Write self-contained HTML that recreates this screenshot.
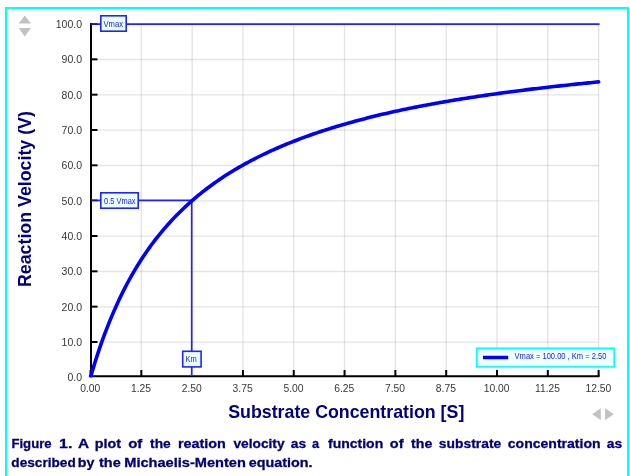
<!DOCTYPE html>
<html><head><meta charset="utf-8">
<style>
html,body{margin:0;padding:0;background:#fff;}
body{width:630px;height:476px;position:relative;overflow:hidden;font-family:"Liberation Sans",sans-serif;}
#frame{position:absolute;left:5px;top:7px;width:620px;height:480px;border:2px solid #00ffff;}
svg{position:absolute;left:0;top:0;}
#chart{will-change:transform;}
</style></head><body>
<div id="frame"></div>
<svg id="chart" width="630" height="476" viewBox="0 0 630 476">
<g stroke="#000" stroke-opacity="0.105" stroke-width="1.35" fill="none">
<line x1="141.31" y1="24.00" x2="141.31" y2="376" />
<line x1="192.12" y1="24.00" x2="192.12" y2="376" />
<line x1="242.94" y1="24.00" x2="242.94" y2="376" />
<line x1="293.75" y1="24.00" x2="293.75" y2="376" />
<line x1="344.56" y1="24.00" x2="344.56" y2="376" />
<line x1="395.38" y1="24.00" x2="395.38" y2="376" />
<line x1="446.19" y1="24.00" x2="446.19" y2="376" />
<line x1="497.00" y1="24.00" x2="497.00" y2="376" />
<line x1="547.81" y1="24.00" x2="547.81" y2="376" />
<line x1="598.62" y1="24.00" x2="598.62" y2="376" />
<line x1="92" y1="342.17" x2="598.62" y2="342.17" />
<line x1="92" y1="306.84" x2="598.62" y2="306.84" />
<line x1="92" y1="271.51" x2="598.62" y2="271.51" />
<line x1="92" y1="236.18" x2="598.62" y2="236.18" />
<line x1="92" y1="200.85" x2="598.62" y2="200.85" />
<line x1="92" y1="165.52" x2="598.62" y2="165.52" />
<line x1="92" y1="130.19" x2="598.62" y2="130.19" />
<line x1="92" y1="94.86" x2="598.62" y2="94.86" />
<line x1="92" y1="59.53" x2="598.62" y2="59.53" />
</g>
<g fill="#c2c2c2">
<polygon points="24.8,15.4 30.9,23.5 18.7,23.5"/>
<polygon points="18.7,28 30.9,28 24.8,36.5"/>
<polygon points="592.2,414.3 600.8,408.3 600.8,420"/>
<polygon points="605.1,408.3 613.9,414.3 605.1,420"/>
</g>

<g stroke="#000" stroke-width="2" fill="none">
<line x1="91" y1="23" x2="91" y2="377.2"/>
<line x1="90" y1="376.2" x2="599.62" y2="376.2"/>
<line x1="90.50" y1="370" x2="90.50" y2="376" />
<line x1="141.31" y1="370" x2="141.31" y2="376" />
<line x1="242.94" y1="370" x2="242.94" y2="376" />
<line x1="293.75" y1="370" x2="293.75" y2="376" />
<line x1="344.56" y1="370" x2="344.56" y2="376" />
<line x1="395.38" y1="370" x2="395.38" y2="376" />
<line x1="446.19" y1="370" x2="446.19" y2="376" />
<line x1="497.00" y1="370" x2="497.00" y2="376" />
<line x1="547.81" y1="370" x2="547.81" y2="376" />
<line x1="598.62" y1="370" x2="598.62" y2="376" />
<line x1="91" y1="341.97" x2="97.5" y2="341.97" />
<line x1="91" y1="306.64" x2="97.5" y2="306.64" />
<line x1="91" y1="271.31" x2="97.5" y2="271.31" />
<line x1="91" y1="235.98" x2="97.5" y2="235.98" />
<line x1="91" y1="165.32" x2="97.5" y2="165.32" />
<line x1="91" y1="129.99" x2="97.5" y2="129.99" />
<line x1="91" y1="94.66" x2="97.5" y2="94.66" />
<line x1="91" y1="59.33" x2="97.5" y2="59.33" />
</g>
<g stroke="#2222ff" stroke-width="1.7" fill="none">
<line x1="90.8" y1="24.05" x2="599.62" y2="24.05"/>
<line x1="91" y1="200.4" x2="191.7" y2="200.4"/>
<line x1="191.7" y1="200.4" x2="191.7" y2="376"/>
</g>
<g stroke="#1010c8" stroke-width="1.7" fill="none">
<line x1="91" y1="24.05" x2="97.5" y2="24.05"/>
<line x1="91" y1="200.4" x2="97.5" y2="200.4"/>
</g>
<clipPath id="pc"><rect x="85" y="0" width="540" height="377.3"/></clipPath>
<polyline clip-path="url(#pc)" points="90.50,377.30 92.53,370.37 94.56,363.71 96.60,357.30 98.63,351.13 100.66,345.18 102.69,339.45 104.73,333.91 106.76,328.57 108.79,323.41 110.83,318.42 112.86,313.59 114.89,308.92 116.92,304.40 118.95,300.02 120.99,295.77 123.02,291.65 125.05,287.66 127.09,283.78 129.12,280.01 131.15,276.36 133.18,272.80 135.22,269.35 137.25,265.99 139.28,262.72 141.31,259.53 143.34,256.43 145.38,253.42 147.41,250.47 149.44,247.61 151.47,244.81 153.51,242.09 155.54,239.43 157.57,236.83 159.60,234.30 161.64,231.82 163.67,229.41 165.70,227.05 167.74,224.74 169.77,222.48 171.80,220.28 173.83,218.12 175.87,216.01 177.90,213.95 179.93,211.93 181.96,209.95 184.00,208.01 186.03,206.11 188.06,204.26 190.09,202.43 192.12,200.65 194.16,198.89 196.19,197.17 198.22,195.47 200.25,193.82 202.29,192.19 204.32,190.59 206.35,189.02 208.38,187.48 210.42,185.97 212.45,184.49 214.48,183.03 216.51,181.60 218.55,180.20 220.58,178.82 222.61,177.46 224.64,176.12 226.68,174.81 228.71,173.52 230.74,172.26 232.78,171.01 234.81,169.78 236.84,168.58 238.87,167.39 240.91,166.22 242.94,165.07 244.97,163.94 247.00,162.82 249.03,161.73 251.07,160.65 253.10,159.58 255.13,158.54 257.16,157.51 259.20,156.49 261.23,155.49 263.26,154.50 265.29,153.53 267.33,152.57 269.36,151.63 271.39,150.70 273.42,149.78 275.46,148.87 277.49,147.98 279.52,147.10 281.56,146.23 283.59,145.38 285.62,144.53 287.65,143.70 289.69,142.88 291.72,142.07 293.75,141.27 295.78,140.48 297.81,139.70 299.85,138.93 301.88,138.17 303.91,137.42 305.94,136.68 307.98,135.95 310.01,135.22 312.04,134.51 314.07,133.81 316.11,133.11 318.14,132.42 320.17,131.74 322.21,131.07 324.24,130.41 326.27,129.76 328.30,129.11 330.34,128.47 332.37,127.84 334.40,127.21 336.43,126.59 338.46,125.98 340.50,125.38 342.53,124.78 344.56,124.19 346.59,123.61 348.63,123.03 350.66,122.46 352.69,121.90 354.72,121.34 356.76,120.79 358.79,120.24 360.82,119.70 362.86,119.17 364.89,118.64 366.92,118.11 368.95,117.60 370.99,117.08 373.02,116.58 375.05,116.07 377.08,115.58 379.11,115.09 381.15,114.60 383.18,114.12 385.21,113.64 387.25,113.17 389.28,112.70 391.31,112.24 393.34,111.78 395.38,111.33 397.41,110.89 399.44,110.45 401.47,110.02 403.50,109.59 405.54,109.17 407.57,108.75 409.60,108.34 411.63,107.93 413.67,107.52 415.70,107.12 417.73,106.72 419.76,106.33 421.80,105.93 423.83,105.55 425.86,105.16 427.90,104.78 429.93,104.41 431.96,104.03 433.99,103.66 436.02,103.30 438.06,102.93 440.09,102.57 442.12,102.22 444.15,101.86 446.19,101.51 448.22,101.16 450.25,100.82 452.29,100.48 454.32,100.14 456.35,99.80 458.38,99.47 460.41,99.14 462.45,98.82 464.48,98.49 466.51,98.17 468.55,97.85 470.58,97.54 472.61,97.22 474.64,96.91 476.68,96.60 478.71,96.30 480.74,96.00 482.77,95.70 484.80,95.40 486.84,95.10 488.87,94.81 490.90,94.52 492.94,94.23 494.97,93.94 497.00,93.66 499.03,93.38 501.06,93.10 503.10,92.82 505.13,92.55 507.16,92.27 509.19,92.00 511.23,91.74 513.26,91.47 515.29,91.20 517.33,90.94 519.36,90.68 521.39,90.42 523.42,90.17 525.45,89.91 527.49,89.66 529.52,89.41 531.55,89.16 533.59,88.91 535.62,88.67 537.65,88.43 539.68,88.18 541.71,87.94 543.75,87.71 545.78,87.47 547.81,87.24 549.85,87.00 551.88,86.77 553.91,86.54 555.94,86.32 557.97,86.09 560.01,85.86 562.04,85.64 564.07,85.42 566.11,85.20 568.14,84.98 570.17,84.77 572.20,84.55 574.24,84.34 576.27,84.12 578.30,83.91 580.33,83.70 582.37,83.50 584.40,83.29 586.43,83.09 588.46,82.88 590.50,82.68 592.53,82.48 594.56,82.28 596.59,82.08 598.62,81.88" fill="none" stroke="#0000ff" stroke-width="3.6" stroke-linejoin="round" stroke-linecap="round"/>
<g font-family="Liberation Sans" font-size="10.5" fill="#383838">
<text x="82" y="381.40" text-anchor="end">0.0</text>
<text x="82" y="346.07" text-anchor="end">10.0</text>
<text x="82" y="310.74" text-anchor="end">20.0</text>
<text x="82" y="275.41" text-anchor="end">30.0</text>
<text x="82" y="240.08" text-anchor="end">40.0</text>
<text x="82" y="204.75" text-anchor="end">50.0</text>
<text x="82" y="169.42" text-anchor="end">60.0</text>
<text x="82" y="134.09" text-anchor="end">70.0</text>
<text x="82" y="98.76" text-anchor="end">80.0</text>
<text x="82" y="63.43" text-anchor="end">90.0</text>
<text x="82" y="28.10" text-anchor="end">100.0</text>
<text x="90.20" y="392" font-size="10.3" text-anchor="middle">0.00</text>
<text x="141.01" y="392" font-size="10.3" text-anchor="middle">1.25</text>
<text x="191.82" y="392" font-size="10.3" text-anchor="middle">2.50</text>
<text x="242.64" y="392" font-size="10.3" text-anchor="middle">3.75</text>
<text x="293.45" y="392" font-size="10.3" text-anchor="middle">5.00</text>
<text x="344.26" y="392" font-size="10.3" text-anchor="middle">6.25</text>
<text x="395.07" y="392" font-size="10.3" text-anchor="middle">7.50</text>
<text x="445.89" y="392" font-size="10.3" text-anchor="middle">8.75</text>
<text x="496.70" y="392" font-size="10.3" text-anchor="middle">10.00</text>
<text x="547.51" y="392" font-size="10.3" text-anchor="middle">11.25</text>
<text x="598.33" y="392" font-size="10.3" text-anchor="middle">12.50</text>
</g>
<g stroke="#2222ff" stroke-width="1.6" fill="#eaffff">
<rect x="100.8" y="15.8" width="25.4" height="15.4"/>
<rect x="100.8" y="192.8" width="37.4" height="15.4"/>
<rect x="182.7" y="351.3" width="18.4" height="15.6"/>
</g>
<g font-family="Liberation Sans" font-size="8.4" fill="#1818ff">
<text x="103.4" y="26.7" textLength="19.6" lengthAdjust="spacingAndGlyphs">Vmax</text>
<text x="104.1" y="203.8" textLength="31.5" lengthAdjust="spacingAndGlyphs">0.5 Vmax</text>
<text x="185.6" y="361.9" textLength="11.2" lengthAdjust="spacingAndGlyphs">Km</text>
</g>
<rect x="476.8" y="348.3" width="137.4" height="18.6" fill="#f0ffff" stroke="#00ffff" stroke-width="1.6"/>
<line x1="483" y1="357.5" x2="508.2" y2="357.5" stroke="#0000ff" stroke-width="3.5"/>
<text x="514.6" y="359.2" font-family="Liberation Sans" font-size="8.2" fill="#1818ff" textLength="91.8" lengthAdjust="spacingAndGlyphs">Vmax = 100.00 , Km = 2.50</text>
<text transform="translate(31.1,287) rotate(-90)" font-family="Liberation Sans" font-weight="bold" font-size="17.8" fill="#000080">Reaction Velocity (V)</text>
<text x="228.2" y="417.8" font-family="Liberation Sans" font-weight="bold" font-size="17.8" fill="#000080">Substrate Concentration [S]</text>
</svg>
<svg id="capsvg" width="630" height="476" viewBox="0 0 630 476">
<g font-family="Liberation Sans" font-weight="bold" font-size="13.5" fill="#000074" stroke="#000074" stroke-width="0.3">
<text x="11.42" y="447.5" textLength="40.23" lengthAdjust="spacingAndGlyphs">Figure</text>
<text x="59.11" y="447.5" textLength="13.39" lengthAdjust="spacingAndGlyphs">1.</text>
<text x="78.06" y="447.5" textLength="11.09" lengthAdjust="spacingAndGlyphs">A</text>
<text x="94.74" y="447.5" textLength="26.3" lengthAdjust="spacingAndGlyphs">plot</text>
<text x="128.19" y="447.5" textLength="14.13" lengthAdjust="spacingAndGlyphs">of</text>
<text x="150.1" y="447.5" textLength="20.66" lengthAdjust="spacingAndGlyphs">the</text>
<text x="177.93" y="447.5" textLength="47.95" lengthAdjust="spacingAndGlyphs">reation</text>
<text x="233.4" y="447.5" textLength="51.19" lengthAdjust="spacingAndGlyphs">velocity</text>
<text x="290.88" y="447.5" textLength="15.38" lengthAdjust="spacingAndGlyphs">as</text>
<text x="311.96" y="447.5" textLength="7.09" lengthAdjust="spacingAndGlyphs">a</text>
<text x="328.0" y="447.5" textLength="55.2" lengthAdjust="spacingAndGlyphs">function</text>
<text x="389.82" y="447.5" textLength="13.71" lengthAdjust="spacingAndGlyphs">of</text>
<text x="411.0" y="447.5" textLength="21.26" lengthAdjust="spacingAndGlyphs">the</text>
<text x="438.87" y="447.5" textLength="62.43" lengthAdjust="spacingAndGlyphs">substrate</text>
<text x="507.76" y="447.5" textLength="92.86" lengthAdjust="spacingAndGlyphs">concentration</text>
<text x="606.88" y="447.5" textLength="15.38" lengthAdjust="spacingAndGlyphs">as</text>
<text x="11.39" y="467.2" textLength="64.4" lengthAdjust="spacingAndGlyphs">described</text>
<text x="77.85" y="467.2" textLength="16.61" lengthAdjust="spacingAndGlyphs">by</text>
<text x="99.0" y="467.2" textLength="21.67" lengthAdjust="spacingAndGlyphs">the</text>
<text x="124.22" y="467.2" textLength="121.66" lengthAdjust="spacingAndGlyphs">Michaelis-Menten</text>
<text x="248.84" y="467.2" textLength="63.62" lengthAdjust="spacingAndGlyphs">equation.</text>
</g>
</svg>
</body></html>
